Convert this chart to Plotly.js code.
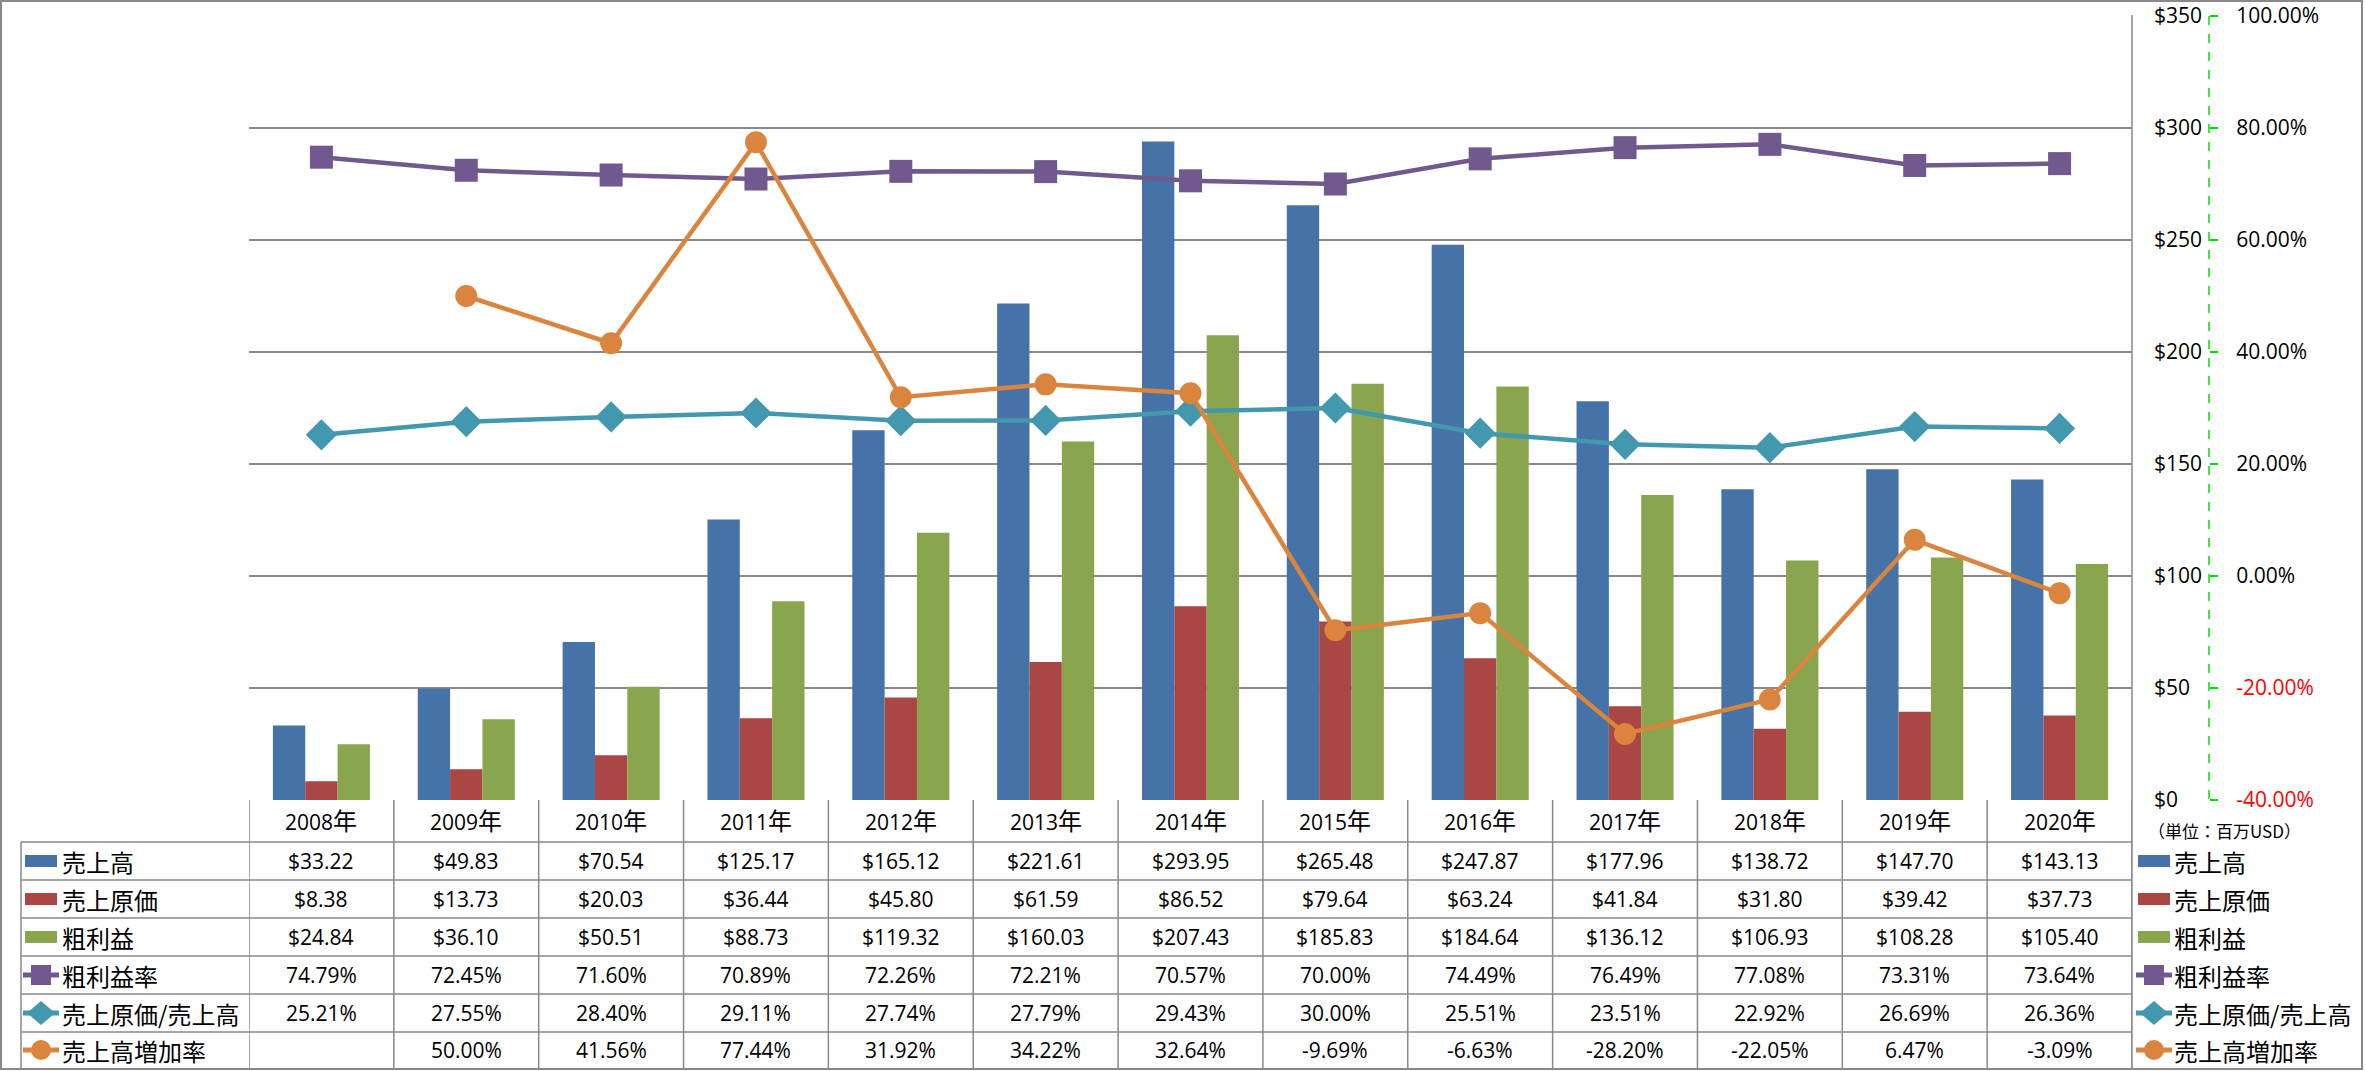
<!DOCTYPE html>
<html><head><meta charset="utf-8">
<script src="https://cdn.plot.ly/plotly-3.0.1.min.js"></script>
<style>html,body{margin:0;padding:0;background:#fff;}#chart{width:2366px;height:1071px;}</style>
</head><body><div id="chart"></div>
<script>
// ---- data ----
const years = ["2008年","2009年","2010年","2011年","2012年","2013年","2014年","2015年","2016年","2017年","2018年","2019年","2020年"];
const sales = [33.22,49.83,70.54,125.17,165.12,221.61,293.95,265.48,247.87,177.96,138.72,147.70,143.13];
const cogs = [8.38,13.73,20.03,36.44,45.80,61.59,86.52,79.64,63.24,41.84,31.80,39.42,37.73];
const gross = [24.84,36.10,50.51,88.73,119.32,160.03,207.43,185.83,184.64,136.12,106.93,108.28,105.40];
const grossMargin = [74.79,72.45,71.60,70.89,72.26,72.21,70.57,70.00,74.49,76.49,77.08,73.31,73.64];
const cogsRatio = [25.21,27.55,28.40,29.11,27.74,27.79,29.43,30.00,25.51,23.51,22.92,26.69,26.36];
const salesGrowth = [null,50.00,41.56,77.44,31.92,34.22,32.64,-9.69,-6.63,-28.20,-22.05,6.47,-3.09];
const seriesNames = ["売上高","売上原価","粗利益","粗利益率","売上原価/売上高","売上高増加率"];
const leftTicks = [0,50,100,150,200,250,300,350];
const rightTicks = [-40,-20,0,20,40,60,80,100];
const unitLabel = "（単位：百万USD）";

// ---- styling ----
const colors = ["#4572A7","#AA4643","#89A54E","#71588F","#4198AF","#DB843D"];
const W=2366,H=1071,ML=249,MR=30,MT=16,MB=271;
const PW=W-ML-MR, PH=H-MT-MB;
const X = px => (px-ML)/PW;
const Y = py => (H-MB-py)/PH;
const PLOT_R = 2132;
const NUMF = {family:"'Open Sans','Noto Sans CJK JP',sans-serif", size:21, color:"#000"};
const CJKF = {family:"'Noto Sans CJK JP',sans-serif", size:24, color:"#000"};
const GRID = "#898989";

const traces = [
  {type:"bar", name:seriesNames[0], x:years, y:sales, marker:{color:colors[0]}},
  {type:"bar", name:seriesNames[1], x:years, y:cogs, marker:{color:colors[1]}},
  {type:"bar", name:seriesNames[2], x:years, y:gross, marker:{color:colors[2]}},
  {type:"scatter", mode:"lines+markers", name:seriesNames[3], x:years, y:grossMargin, yaxis:"y2",
   line:{color:colors[3], width:4.5}, marker:{symbol:"square", size:23, color:colors[3]}},
  {type:"scatter", mode:"lines+markers", name:seriesNames[4], x:years, y:cogsRatio, yaxis:"y2",
   line:{color:colors[4], width:4.5}, marker:{symbol:"diamond", size:24, color:colors[4]}},
  {type:"scatter", mode:"lines+markers", name:seriesNames[5], x:years, y:salesGrowth, yaxis:"y2",
   line:{color:colors[5], width:4.5}, marker:{symbol:"circle", size:22, color:colors[5]}, connectgaps:false}
];

const shapes = [];
const annotations = [];
const line = (x0,y0,x1,y1,opt) => shapes.push(Object.assign({type:"line", xref:"paper", yref:"paper", x0:X(x0), y0:Y(y0), x1:X(x1), y1:Y(y1), line:{color:GRID, width:1.5}, layer:"above"}, opt||{}));

// outer border
shapes.push({type:"rect", xref:"paper", yref:"paper", x0:X(1), y0:Y(1), x1:X(2362), y1:Y(1069), line:{color:GRID, width:2}, layer:"below"});
// right plot border
line(PLOT_R,15,PLOT_R,1069);
// table rows
const rowLines = [842,880,918,956,994,1032,1069];
rowLines.forEach(y => line(21,y,PLOT_R,y));
line(21,842,21,1069);
// column separators via x scale
for (let i=0;i<=years.length;i++){
  shapes.push({type:"line", xref:"x", yref:"paper", x0:i-0.5, x1:i-0.5, y0:Y(800), y1:Y(1069), line:{color:GRID, width:1.5}, layer:"above"});
}
// green dashed secondary axis line
line(2209,16,2209,800,{line:{color:"#00e000", width:1.5, dash:"dash"}});

// header
years.forEach((yr,i)=>annotations.push({xref:"x", yref:"paper", x:yr, y:Y(821),
  text:yr.replace("年",'<span style="font-size:24px">年</span>'), showarrow:false, font:NUMF, xanchor:"center", yanchor:"middle"}));
// rows
const rowCenters = [861,899,937,975,1013,1050];
const fmt$ = v => "$" + v.toFixed(2);
const fmtP = v => v===null ? "" : v.toFixed(2) + "%";
const rows = [sales.map(fmt$), cogs.map(fmt$), gross.map(fmt$), grossMargin.map(fmtP), cogsRatio.map(fmtP), salesGrowth.map(fmtP)];
rows.forEach((r,ri)=>r.forEach((t,i)=>{
  if (t) annotations.push({xref:"x", yref:"paper", x:years[i], y:Y(rowCenters[ri]), text:t, showarrow:false, font:NUMF, xanchor:"center", yanchor:"middle"});
}));

// legend keys (left in table, and right side)
function legendKey(cx, textX, ri){
  const cy = rowCenters[ri];
  if (ri<3){
    shapes.push({type:"rect", xref:"paper", yref:"paper", x0:X(cx-16), x1:X(cx+16), y0:Y(cy+6), y1:Y(cy-6), fillcolor:colors[ri], line:{width:0}, layer:"above"});
  } else {
    line(cx-18,cy,cx+18,cy,{line:{color:colors[ri], width:5}});
    if (ri===3){
      shapes.push({type:"rect", xref:"paper", yref:"paper", x0:X(cx-10), x1:X(cx+10), y0:Y(cy+10), y1:Y(cy-10), fillcolor:colors[ri], line:{width:0}, layer:"above"});
    } else if (ri===4){
      const p = `M ${X(cx-14)} ${Y(cy)} L ${X(cx)} ${Y(cy-12)} L ${X(cx+14)} ${Y(cy)} L ${X(cx)} ${Y(cy+12)} Z`;
      shapes.push({type:"path", xref:"paper", yref:"paper", path:p, fillcolor:colors[ri], line:{width:0}, layer:"above"});
    } else {
      shapes.push({type:"circle", xref:"paper", yref:"paper", x0:X(cx-10), x1:X(cx+10), y0:Y(cy+10), y1:Y(cy-10), fillcolor:colors[ri], line:{width:0}, layer:"above"});
    }
  }
  annotations.push({xref:"paper", yref:"paper", x:X(textX), y:Y(cy), text:seriesNames[ri], showarrow:false, font:CJKF, xanchor:"left", yanchor:"middle"});
}
for (let ri=0; ri<6; ri++){ legendKey(41, 60, ri); legendKey(2154, 2172, ri); }

annotations.push({xref:"paper", yref:"paper", x:X(2146), y:Y(830), text:unitLabel, showarrow:false, font:{family:"'Noto Sans CJK JP',sans-serif", size:17, color:"#000"}, xanchor:"left", yanchor:"middle"});

const layout = {
  width:W, height:H,
  margin:{l:ML, r:MR, t:MT, b:MB, pad:0},
  paper_bgcolor:"#fff", plot_bgcolor:"#fff",
  showlegend:false,
  barmode:"group", bargap:0.33, bargroupgap:0,
  xaxis:{type:"category", range:[-0.5, years.length-0.5], autorange:false, domain:[0, X(PLOT_R)], showticklabels:false, ticks:"", showgrid:false, zeroline:false, showline:false, fixedrange:true},
  yaxis:{range:[0,350], tickvals:leftTicks, ticktext:leftTicks.map(v=>"$"+v), side:"right", anchor:"free", position:X(2153),
         showgrid:true, gridcolor:GRID, gridwidth:1.5, zeroline:false, showline:false, ticks:"", tickfont:NUMF, ticklabelstandoff:0},
  yaxis2:{range:[-40,100], overlaying:"y", side:"right", anchor:"free", position:X(2209),
          tickvals:rightTicks, ticktext:rightTicks.map(v=> v<0 ? `<span style="color:#ff0000">${v.toFixed(2)}%</span>` : v.toFixed(2)+"%"),
          showgrid:false, zeroline:false, showline:false, ticks:"outside", ticklen:8, tickcolor:"#00e000", tickwidth:1.5,
          tickfont:NUMF, ticklabelstandoff:14},
  shapes:shapes, annotations:annotations,
  hovermode:false
};
Plotly.newPlot("chart", traces, layout, {staticPlot:true, displayModeBar:false});
</script></body></html>
